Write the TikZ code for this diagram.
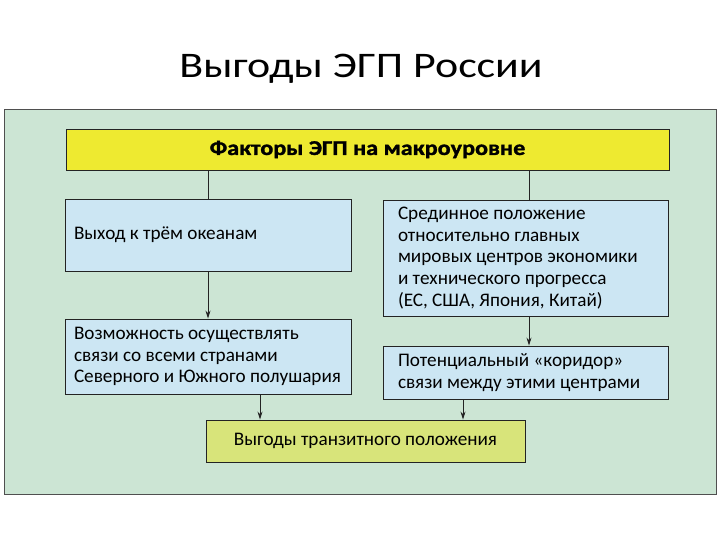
\documentclass[tikz,border=0pt]{standalone}
\usepackage{fontspec}
\setmainfont{Carlito}
\newfontfamily\titlefont[FakeStretch=1.22]{Carlito}
\newfontfamily\headfont[FakeStretch=1.15,BoldFeatures={FakeBold=1.5}]{Carlito}
\usetikzlibrary{arrows.meta}
\definecolor{panelc}{RGB}{204,229,212}
\definecolor{headc}{RGB}{238,234,48}
\definecolor{factc}{RGB}{204,230,243}
\definecolor{resc}{RGB}{216,228,122}
\definecolor{linec}{RGB}{35,35,35}

\begin{document}
\begin{tikzpicture}[
  x=1pt, y=-1pt,
  box/.style={draw=linec, line width=0.9pt, inner ysep=0pt,
    font=\fontsize{19.2}{21.8}\selectfont,
    execute at begin node={\spaceskip=0pt\xspaceskip=0pt}},
  fact/.style={box, fill=factc, inner xsep=9pt, text width=268pt},
  factr/.style={box, fill=factc, inner xsep=15pt, text width=255pt},
  head/.style={box, fill=headc, minimum width=603pt, minimum height=41pt,
    font=\fontsize{21}{24}\headfont\bfseries},
  res/.style={box, fill=resc, minimum width=319pt, minimum height=42pt},
  conn/.style={draw=linec, line width=0.9pt},
  >={Stealth[length=8pt,width=5pt]}
]
\useasboundingbox[fill=white] (0,0) rectangle (720,540);
\fill[panelc] (4,110) rectangle (716,494);
\draw[linec!80, line width=1pt] (4,110) rectangle (716,494);

\node[anchor=base, font=\fontsize{36}{40}\titlefont] (title) at (361,78)
  {Выгоды ЭГП России};

\node[head] (head) at (367.5,149.5) {Факторы ЭГП на макроуровне};

\node[fact, minimum height=72pt] (ocean) at (208,235)
  {Выход к трём океанам};
\node[factr, minimum height=116pt] (mid) at (525.5,258)
  {Срединное положение\\относительно главных\\мировых центров экономики\\и технического прогресса\\(ЕС, США, Япония, Китай)};
\node[fact, minimum height=75pt] (links) at (208,356.5)
  {Возможность осуществлять\\связи со всеми странами\\Северного и Южного полушария};
\node[factr, minimum height=53pt] (corr) at (525.5,372.5)
  {Потенциальный «коридор»\\связи между этими центрами};

\node[res] (trans) at (365.5,441) {Выгоды транзитного положения};

\draw[conn] (head.south -| ocean.north) -- (ocean.north);
\draw[conn] ([xshift=3.5pt]head.south -| mid.north) -- ([xshift=3.5pt]mid.north);
\draw[conn, ->] (ocean) -- (links);
\draw[conn, ->] ([xshift=3.5pt]mid.south) -- ([xshift=3.5pt]corr.north);
\draw[conn, ->] ([xshift=52pt]links.south) -- ([xshift=52pt]links.south |- trans.north);
\draw[conn, ->] ([xshift=-62.5pt]corr.south) -- ([xshift=-62.5pt]corr.south |- trans.north);
\end{tikzpicture}
\end{document}
